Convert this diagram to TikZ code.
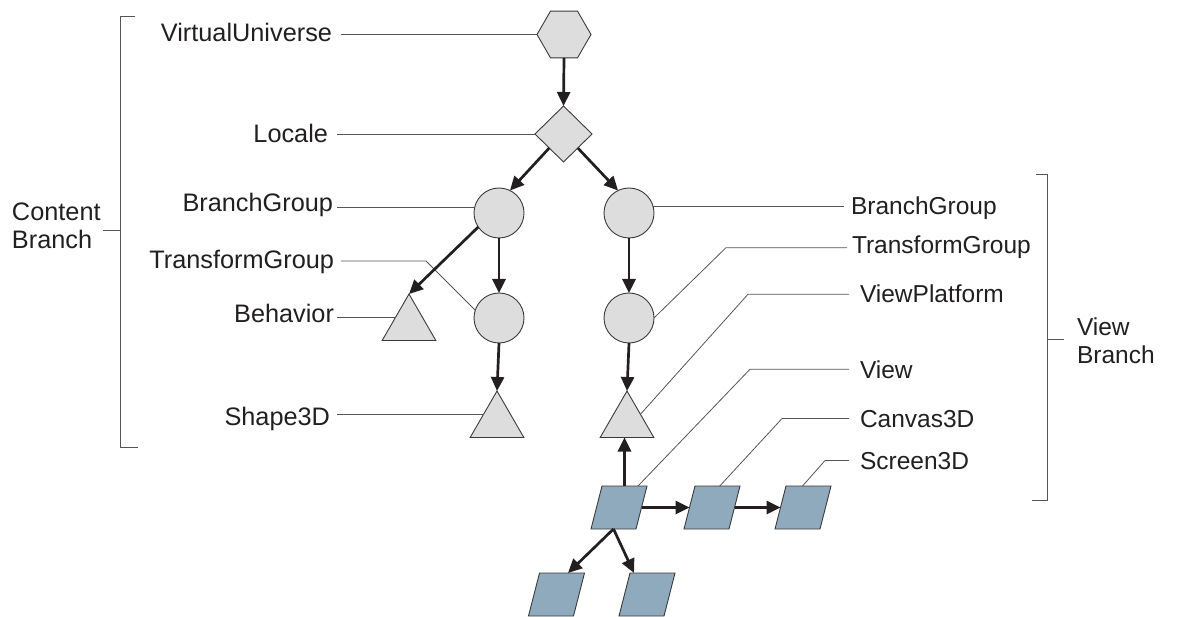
\documentclass[tikz,border=0pt]{standalone}
\usepackage{fontspec}
\setmainfont{Liberation Sans}
\usetikzlibrary{shapes.geometric,arrows.meta,calc}
\definecolor{shapefill}{HTML}{DDDDDD}
\definecolor{parafill}{HTML}{8FAABD}
\definecolor{edgec}{HTML}{3A3A3A}
\definecolor{ink}{HTML}{231F20}
\definecolor{leader}{HTML}{555555}
\begin{document}
\begin{tikzpicture}[x=1pt,y=-1pt,
  every node/.style={outer sep=0pt},
  gnode/.style={draw=edgec, fill=shapefill, line width=0.9pt, inner sep=0pt},
  hexa/.style={gnode, regular polygon, regular polygon sides=6, minimum size=54pt},
  dmd/.style={gnode, diamond, minimum width=57pt, minimum height=56pt},
  circ/.style={gnode, circle, minimum size=50pt},
  tri/.style={gnode, regular polygon, regular polygon sides=3, minimum size=62pt},
  para/.style={draw=edgec, fill=parafill, line width=0.9pt, inner sep=0pt, rectangle, minimum width=45pt, minimum height=43pt, xslant=0.256},
  arr/.style={draw=ink, line width=2.7pt, -{Triangle[length=14pt,width=13pt]}},
  lead/.style={draw=leader, line width=0.8pt},
  lab/.style={font=\fontsize{24.5}{28}\selectfont, text=ink, inner sep=0pt},
  labl/.style={font=\fontsize{25.3}{28}\selectfont, text=ink, inner sep=0pt},
]
\useasboundingbox (0,0) rectangle (1180,617);

% graph nodes
\node[hexa] (vu) at (564,34.5) {};
\node[dmd] (lo) at (563.5,134) {};
\node[circ] (bg1) at (499,213) {};
\node[circ] (bg2) at (629,213) {};
\node[circ] (tg1) at (499,318) {};
\node[circ] (tg2) at (629,318) {};
\node[tri] (beh) at (409,325) {};
\node[tri] (s3d) at (497,422) {};
\node[tri] (vp) at (627,422) {};
\node[para] (vw) at (619,507.5) {};
\node[para] (cv) at (712,507.5) {};
\node[para] (sc) at (803,507.5) {};
\node[para] (pb1) at (556.5,594.5) {};
\node[para] (pb2) at (647,594.5) {};

% left labels
\node[labl, anchor=base east] (lvu) at (332,41.5) {VirtualUniverse};
\node[labl, anchor=base east] (llo) at (328,143) {Locale};
\node[labl, anchor=base east] (lbg) at (333,212) {BranchGroup};
\node[labl, anchor=base east] (ltg) at (334,269) {TransformGroup};
\node[labl, anchor=base east] (lbe) at (334,323) {Behavior};
\node[labl, anchor=base east] (ls3) at (330,425) {Shape3D};
\node[labl, anchor=west, align=left] (lcb) at (12,226) {Content\\Branch};

% right labels
\node[lab, anchor=base west] (rbg) at (851,215) {BranchGroup};
\node[lab, anchor=base west] (rtg) at (852,254) {TransformGroup};
\node[lab, anchor=base west] (rvp) at (860,303) {ViewPlatform};
\node[lab, anchor=base west] (rvw) at (860,378) {View};
\node[lab, anchor=base west] (rcv) at (860,427) {Canvas3D};
\node[lab, anchor=base west] (rsc) at (860,469) {Screen3D};
\node[lab, anchor=west, align=left] (vbr) at (1077,341) {View\\Branch};

% leader lines, left
\draw[lead, shorten <=9pt] (lvu.east |- vu.west) -- (vu.west);
\draw[lead, shorten <=9pt] (llo.east |- lo.west) -- (lo.west);
\draw[lead, shorten <=4pt] (lbg.east |- bg1.168) -- (bg1.168);
\coordinate (k1) at (426,261);
\draw[lead, shorten <=7pt] (ltg.east |- k1) -- (k1) -- (tg1.162);
\draw[lead, shorten <=3pt] (lbe.east |- beh.side 1) -- (beh.side 1);
\draw[lead, shorten <=7pt] (ls3.east |- s3d.side 1) -- (s3d.side 1);

% leader lines, right
\draw[lead, shorten >=7pt] (bg2.16) -- (bg2.16 -| rbg.west);
\coordinate (k2) at (726,248);
\draw[lead, shorten <=5pt] (rtg.west) -- (rtg.west -| k2) -- (tg2.east);
\coordinate (k3) at (748,295);
\draw[lead, shorten <=11pt] (rvp.west) -- (rvp.west -| k3) -- (vp.side 3);
\coordinate (k4) at (750,369);
\draw[lead, shorten <=11pt] (rvw.west) -- (rvw.west -| k4) -- ($(vw.north)!0.6!(vw.north east)$);
\coordinate (k5) at (782,420);
\draw[lead, shorten <=11pt] (rcv.west) -- (rcv.west -| k5) -- ($(cv.north)!0.1!(cv.north east)$);
\coordinate (k6) at (825,463);
\draw[lead, shorten <=11pt] (rsc.west) -- (rsc.west -| k6) -- ($(sc.north)+(-6,0)$);

% brackets
\draw[lead] (135,16) -- (120,16) -- (120,447) -- (138,447);
\draw[lead] (103,230) -- (120,230);
\draw[lead] (1036,174) -- (1047,174) -- (1047,500) -- (1032,500);
\draw[lead] (1047,339) -- (1064,339);

% arrows
\draw[arr] (vu.south) -- (lo.north);
\draw[arr] (lo.south west) -- (bg1.64);
\draw[arr] (lo.south east) -- (bg2.116);
\draw[arr] (bg1.214) -- (beh.corner 1);
\draw[arr] (bg1.south) -- (tg1.north);
\draw[arr] (tg1.south) -- (s3d.corner 1);
\draw[arr] (bg2.south) -- (tg2.north);
\draw[arr] (tg2.south) -- (vp.corner 1);
\draw[arr] (vw.north) -- (vw.north |- vp.side 2);
\draw[arr] (vw.east) -- (cv.west);
\draw[arr] (cv.east) -- (sc.west);
\draw[arr] (vw.south) -- ($(pb1.north)+(6,0)$);
\draw[arr] (vw.south) -- ($(pb2.north west)+(4,0)$);
\end{tikzpicture}
\end{document}
